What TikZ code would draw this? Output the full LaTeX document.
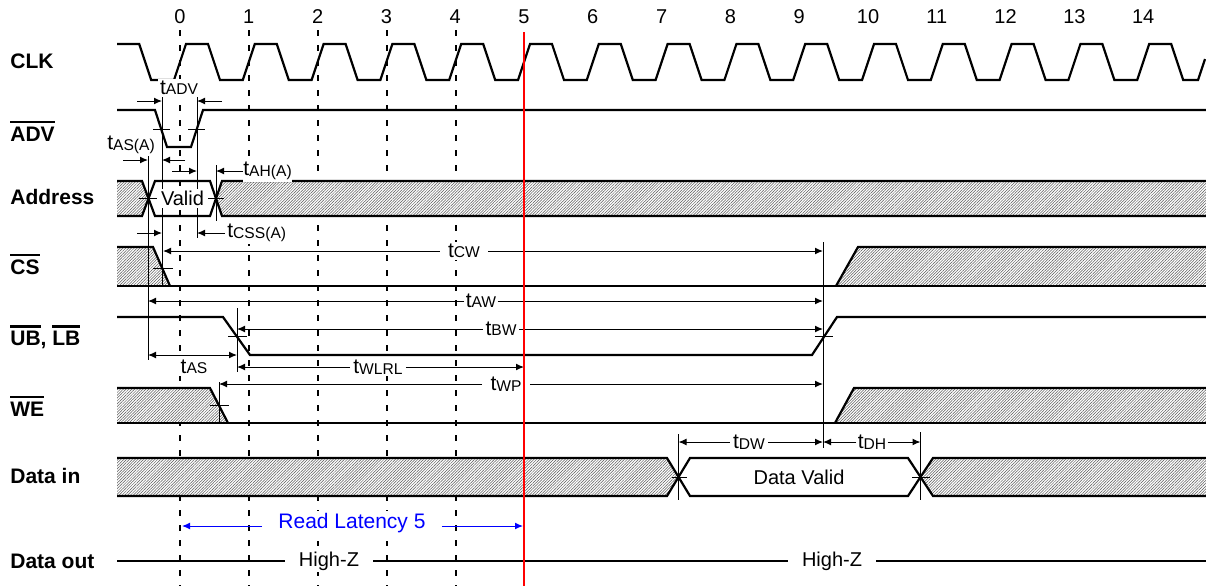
\documentclass[tikz,border=0pt]{standalone}
\usepackage{fontspec}
\setmainfont{Liberation Sans}
\usetikzlibrary{arrows.meta,patterns.meta}

\newcommand\tsub[1]{t\raisebox{-0.2pt}{\fontsize{7.8}{8}\selectfont #1}}
\newcommand\sigbar[1]{\vbox{\hrule height 1.3pt\kern 1.6pt\hbox{#1}}}

\tikzset{
	wave/.style={line width=1.1pt, line join=miter},
	hatch/.style={preaction={fill=white}, pattern={Lines[angle=45,distance=1pt,line width=0.25pt]}, pattern color=black!65},
	dim/.style={line width=0.5pt, -{Latex[length=4pt,width=3.4pt]}},
	dimboth/.style={line width=0.5pt, {Latex[length=4pt,width=3.4pt]}-{Latex[length=4pt,width=3.4pt]}},
	guide/.style={line width=0.5pt},
	cyclegrid/.style={line width=0.65pt, dash pattern=on 3pt off 4.5pt},
	sig/.style={anchor=base west, inner sep=0pt, font=\fontsize{10.5}{12}\selectfont\bfseries},
	lbl/.style={font=\fontsize{10}{12}\selectfont, inner sep=1pt, fill=white},
	tlbl/.style={font=\fontsize{10.5}{12}\selectfont, inner xsep=1pt, inner ysep=1pt, fill=white},
}

\begin{document}
\begin{tikzpicture}[x=0.5pt,y=-0.5pt]
		\useasboundingbox (0,0) rectangle (1206,586);
		
		\foreach \k in {0,...,14}
		\node[lbl, anchor=base] (c\k) at ({180+68.8*\k},23) {\k};
		\foreach \gx in {180,249,318,387,456}
		\draw[cyclegrid] (\gx,30) -- (\gx,586);
		
		\node[sig] (clk) at (10,68.5) {CLK};
		\node[sig] (adv) at (10,141) {\sigbar{ADV}};
		\node[sig] (addr) at (10,204.5) {Address};
		\node[sig] (cs) at (10,274) {\sigbar{CS}};
		\node[sig] (ublb) at (10,345.5) {\sigbar{UB}, \sigbar{LB}};
		\node[sig] (we) at (10,416) {\sigbar{WE}};
		\node[sig] (din) at (10,483.5) {Data in};
		\node[sig] (dout) at (10,568.5) {Data out};
		
		% hatched (don't care) regions
		\fill[hatch] (117,181) -- (142,181) -- (148.5,198.5) -- (142,216) -- (117,216) -- cycle;
		\fill[hatch] (1206,181) -- (222,181) -- (216,198.5) -- (222,216) -- (1206,216) -- cycle;
		\fill[hatch] (117,247) -- (153,247) -- (170,286) -- (117,286) -- cycle;
		\fill[hatch] (836,286) -- (858,247) -- (1206,247) -- (1206,286) -- cycle;
		\fill[hatch] (117,388) -- (210,388) -- (228,423) -- (117,423) -- cycle;
		\fill[hatch] (835,423) -- (854,388) -- (1206,388) -- (1206,423) -- cycle;
		\fill[hatch] (117,458) -- (667,458) -- (678.5,477) -- (667,496) -- (117,496) -- cycle;
		\fill[hatch] (1206,458) -- (933,458) -- (920.5,477) -- (933,496) -- (1206,496) -- cycle;
		
		\draw[wave] (117,44) -- ({180-68.8+28},44) -- ({180-68.8+40},80)
		foreach \k in {0,...,14}{ -- ({180+68.8*\k-6},80) -- ({180+68.8*\k+6},44) -- ({180+68.8*\k+28},44) -- ({180+68.8*\k+40},80) }
		-- (1198,80) -- (1205,59);
		\draw[wave] (117,110) -- (155,110) -- (167,147) -- (191,147) -- (203,110) -- (1206,110);
		\draw[wave] (117,181) -- (142,181) -- (155,216) -- (210,216) -- (222,181) -- (1206,181);
		\draw[wave] (117,216) -- (142,216) -- (155,181) -- (210,181) -- (222,216) -- (1206,216);
		\draw[wave] (117,247) -- (153,247) -- (170,286);
		\draw[wave] (117,286) -- (1206,286);
		\draw[wave] (836,286) -- (858,247) -- (1206,247);
		\draw[wave] (117,317) -- (223,317) -- (250,355) -- (812,355) -- (837,317) -- (1206,317);
		\draw[wave] (117,388) -- (210,388) -- (228,423);
		\draw[wave] (117,423) -- (1206,423);
		\draw[wave] (835,423) -- (854,388) -- (1206,388);
		\draw[wave] (117,458) -- (667,458) -- (690,496) -- (908,496) -- (933,458) -- (1206,458);
		\draw[wave] (117,496) -- (667,496) -- (690,458) -- (908,458) -- (933,496) -- (1206,496);
		
		% crossing ticks and reference lines
		\draw[guide] (153,129) -- (170,129) (188,129) -- (205,129);
		\draw[guide] (139,198.5) -- (157,198.5) (208,198.5) -- (224,198.5);
		\draw[guide] (153,268) -- (173,268);
		\draw[guide] (228,336) -- (247,336) (815,336) -- (833,336);
		\draw[guide] (210,405) -- (229,405);
		\draw[guide] (672,477) -- (687,477) (912,477) -- (930,477);
		\draw[guide] (162,97) -- (162,285) (197,97) -- (197,238) (148,150) -- (148,360) (216,165) -- (216,221);
		\draw[guide] (237,308) -- (237,372) (219,382) -- (219,423) (823,242) -- (823,448);
		\draw[guide] (678.5,434) -- (678.5,500) (920.5,432) -- (920.5,500);
		
		\node[lbl] (valid) at (182.5,198.5) {Valid};
		\node[lbl] (dvalid) at (799,477) {Data Valid};
		\node[lbl, inner xsep=7pt] (hz1) at (329,561) {High-Z};
		\node[lbl, inner xsep=7pt] (hz2) at (832,561) {High-Z};
		\draw[wave] (117,561) -- (hz1) -- (hz2) -- (1206,561);
		
		% timing parameters
		\node[tlbl] (tadv) at (179,88) {\tsub{ADV}};
		\draw[dim] (137,101) -- (162,101);
		\draw[dim] (222,101) -- (197,101);
		\node[tlbl] (tasa) at (131,145) {\tsub{AS(A)}};
		\draw[dim] (123,160) -- (148,160);
		\draw[dim] (185,160) -- (162,160);
		\node[tlbl, anchor=west, inner xsep=0pt] (taha) at (243,171) {\tsub{AH(A)}};
		\draw[dim] (172,171) -- (197,171);
		\draw[dim] (taha) -- (216,171);
		\node[tlbl, anchor=west, inner xsep=1pt] (tcssa) at (225,233) {\tsub{CSS(A)}};
		\draw[dim] (137,233) -- (162,233);
		\draw[dim] (tcssa) -- (197,233);
		\node[tlbl, inner xsep=4pt] (tcw) at (464,251) {\tsub{CW}};
		\draw[dim] (tcw) -- (163,251);
		\draw[dim] (tcw) -- (823,251);
		\node[tlbl, inner xsep=0.5pt] (taw) at (481,301) {\tsub{AW}};
		\draw[dim] (taw) -- (148,301);
		\draw[dim] (taw) -- (823,301);
		\node[tlbl, inner xsep=1.2pt] (tbw) at (501,329) {\tsub{BW}};
		\draw[dim] (tbw) -- (237,329);
		\draw[dim] (tbw) -- (823,329);
		\draw[dimboth] (148,355) -- (237,355);
		\node[tlbl] (tas) at (194,367) {\tsub{AS}};
		\node[tlbl, inner xsep=1.5pt] (twlrl) at (378,367) {\tsub{WLRL}};
		\draw[dim] (twlrl) -- (237,367);
		\draw[dim] (twlrl) -- (524,367);
		\node[tlbl, inner xsep=4pt] (twp) at (506,384) {\tsub{WP}};
		\draw[dim] (twp) -- (219,384);
		\draw[dim] (twp) -- (823,384);
		\node[tlbl, inner xsep=1.5pt] (tdw) at (749,442) {\tsub{DW}};
		\draw[dim] (tdw) -- (678.5,442);
		\draw[dim] (tdw) -- (823,442);
		\node[tlbl, inner xsep=0.5pt] (tdh) at (872,442) {\tsub{DH}};
		\draw[dim] (tdh) -- (823,442);
		\draw[dim] (tdh) -- (920.5,442);
		
		\node[lbl, text=blue, inner xsep=8pt, text depth=5pt, font=\fontsize{10.5}{12}\selectfont] (rlat) at (352,526) {Read Latency 5};
		\draw[dim, blue] (rlat) -- (182,526);
		\draw[dim, blue] (rlat) -- (523,526);
		
		\draw[red, line width=0.7pt] (524,32) -- (524,586);
		
\end{tikzpicture}
\end{document}
